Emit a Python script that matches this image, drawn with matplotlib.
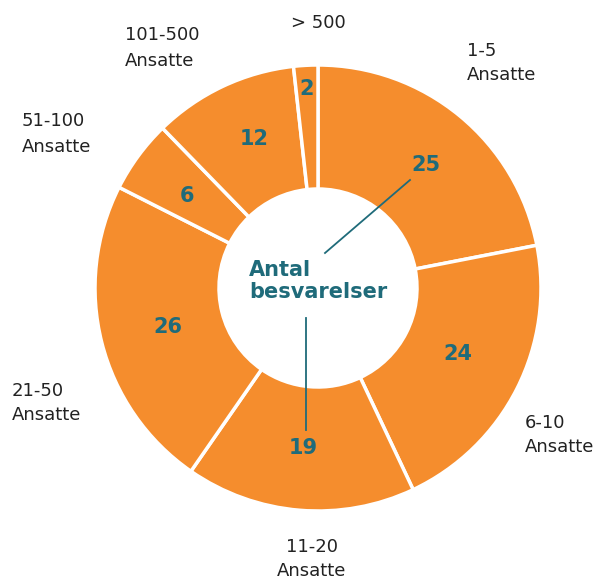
import matplotlib.pyplot as plt

values = [25, 24, 19, 26, 6, 12, 2]
value_pos = [(426, 165), (458, 354), (303, 448), (168, 327), (187, 196), (254, 139), (307, 89)]
labels = ["1-5\nAnsatte", "6-10\nAnsatte", "11-20\nAnsatte", "21-50\nAnsatte",
          "51-100\nAnsatte", "101-500\nAnsatte", "> 500"]
label_pos = [(467, 63, "left"), (525, 435, "left"), (312, 559, "center"), (12, 403, "left"),
             (22, 134, "left"), (125, 48, "left"), (318, 23, "center")]

orange = "#F58D2D"
teal = "#1F6B7A"
W, H = 599, 581

fig = plt.figure(figsize=(W / 100, H / 100), dpi=100)
ax = fig.add_axes([0, 0, 1, 1])
ax.set_xlim(0, W)
ax.set_ylim(0, H)
ax.axis("off")

cx, cy = 318, H - 288
ax.pie(values, center=(cx, cy), radius=223, startangle=90, counterclock=False,
       colors=[orange] * len(values),
       wedgeprops=dict(width=223 - 99, edgecolor="white", linewidth=2.5))
ax.set_xlim(0, W)
ax.set_ylim(0, H)
ax.set_aspect("equal")

for v, (x, y) in zip(values, value_pos):
    ax.text(x, H - y, str(v), color=teal, fontsize=15, fontweight="heavy",
            ha="center", va="center")

for lab, (x, y, ha) in zip(labels, label_pos):
    ax.text(x, H - y, lab, color="#222222", fontsize=13, ha=ha, va="center",
            linespacing=1.5)

ax.text(249, H - 281, "Antal\nbesvarelser", color=teal, fontsize=15,
        fontweight="heavy", ha="left", va="center", linespacing=1.15)

ax.plot([325, 410], [H - 253, H - 180], color=teal, lw=1.3)
ax.plot([306, 306], [H - 318, H - 430], color=teal, lw=1.3)

fig.savefig("out.png", dpi=100)
